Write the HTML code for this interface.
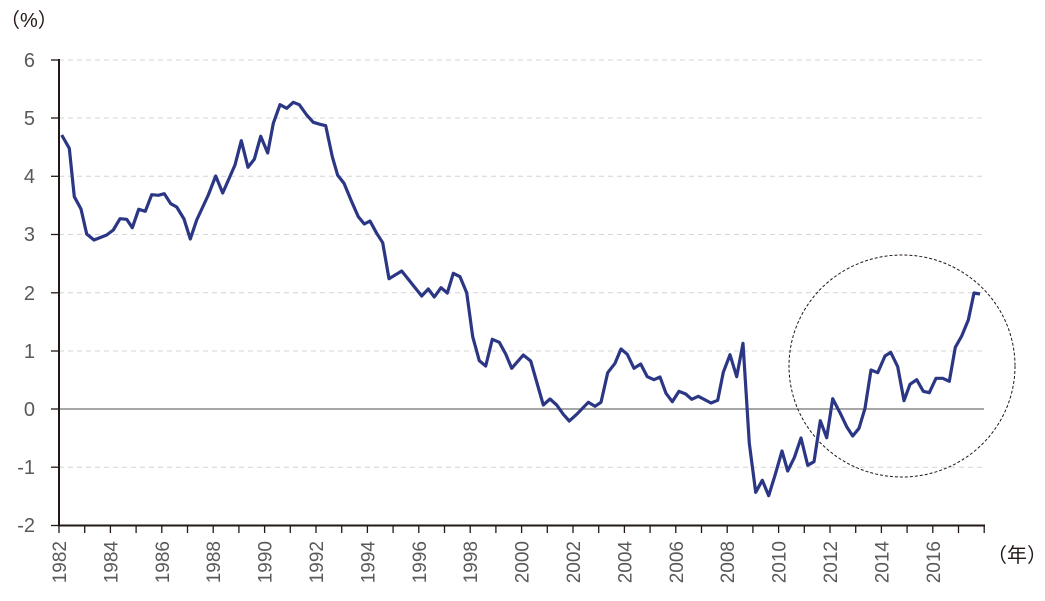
<!DOCTYPE html>
<html><head><meta charset="utf-8"><style>
html,body{margin:0;padding:0;background:#fff;}
svg{display:block;font-family:"Liberation Sans","Noto Sans CJK JP",sans-serif;}
</style></head><body>
<svg width="1045" height="601" viewBox="0 0 1045 601">
<g stroke="#d4d4d4" stroke-width="1" stroke-dasharray="5,4">
<line x1="59" y1="60" x2="984" y2="60"/>
<line x1="59" y1="118" x2="984" y2="118"/>
<line x1="59" y1="176.3" x2="984" y2="176.3"/>
<line x1="59" y1="234.5" x2="984" y2="234.5"/>
<line x1="59" y1="292.8" x2="984" y2="292.8"/>
<line x1="59" y1="351" x2="984" y2="351"/>
<line x1="59" y1="467.2" x2="984" y2="467.2"/>
</g>
<line x1="59" y1="409" x2="984" y2="409" stroke="#8a8a8a" stroke-width="1.5"/>
<g stroke="#231815" stroke-width="1.3">
<line x1="51" y1="60" x2="59" y2="60"/><line x1="51" y1="118" x2="59" y2="118"/><line x1="51" y1="176.3" x2="59" y2="176.3"/><line x1="51" y1="234.5" x2="59" y2="234.5"/><line x1="51" y1="292.8" x2="59" y2="292.8"/><line x1="51" y1="351" x2="59" y2="351"/><line x1="51" y1="409" x2="59" y2="409"/><line x1="51" y1="467.2" x2="59" y2="467.2"/><line x1="51" y1="525.5" x2="59" y2="525.5"/>
</g>
<line x1="59" y1="59" x2="59" y2="526" stroke="#231815" stroke-width="2"/>
<line x1="58" y1="525.5" x2="985" y2="525.5" stroke="#231815" stroke-width="2"/>
<g id="ticks" stroke="#231815" stroke-width="1.3"></g>
<g fill="#595959" font-size="20" text-anchor="end">
<text x="35" y="67">6</text><text x="35" y="125">5</text><text x="35" y="183">4</text><text x="35" y="241">3</text><text x="35" y="300">2</text><text x="35" y="358">1</text><text x="35" y="416">0</text><text x="35" y="474">-1</text><text x="35" y="532">-2</text>
</g>
<g id="years" fill="#595959" font-size="19"></g>
<text x="0" y="27" font-size="20" fill="#231815">（%）</text>
<text x="987" y="562" font-size="20" fill="#231815">（年）</text>
<ellipse cx="902" cy="366" rx="113" ry="111" fill="none" stroke="#231815" stroke-width="1" stroke-dasharray="3,2"/>
<polyline fill="none" stroke="#2b3784" stroke-width="3.2" stroke-linejoin="round" points="61.7,135 69.3,148.3 74.3,196.7 81,209 86.7,234 94,240 106.7,235 113.3,230 120,218.7 126.7,219.3 132.3,227.7 138.7,209.3 145.3,211.3 151.7,194.7 158.3,195.3 164.3,193.7 170.7,203.7 176.7,207 184,219 190.3,239 196.7,220 208.3,195 215.7,176 222.7,193 235,165 241.3,140.7 248,167.3 254.3,159.3 260.7,136.3 267.7,153 273.3,123.3 280,104.7 286.7,108.3 293.3,102.3 299.3,104.7 306.7,115 313.3,122.3 320,124.3 325.7,125.7 332.3,156.7 337.7,175.3 344,183.3 351.7,201.7 358.3,216.7 364.3,224 370,221 376.7,233.3 382.7,242.7 389,278.7 401.7,271 421.7,296 428.3,289 434.3,297 441,287.7 447.3,293 453.3,273.3 460,276.7 466.7,292.7 472.7,336.7 479.3,360.7 485.7,366 492.3,339.3 499.3,342.3 505.7,354 511.7,368.3 523.3,355 530.7,361 543.3,405 550,399 556.7,405 563.3,414.3 569.3,421 576.7,414.3 588.3,402.3 595,406.3 601,402.3 607.7,372.7 615,363.3 621,349 627.3,354.3 634,368.3 640.7,364 647.3,376.7 654,379.7 660,377 666,393.3 672.3,401.7 679,391.3 685.7,394 691.7,399.3 698.3,396.3 711,403 717.7,400.3 723.3,372.3 730,354.7 736.7,376.7 743,343.3 749.3,443.3 755.7,492.3 762.3,480.3 768.7,495.7 775.3,474.3 782,451 787.7,471 794.3,457.7 801,438 807.7,465.3 814,461.7 820.3,420.7 826.7,437.7 832.7,398.7 840,412.7 846.7,426.7 852.7,436 859,428.3 865,408.3 871,370 877.7,372.7 885,356 890.7,352.3 897.7,366.7 904,400.7 910,384.3 916.7,379.7 923.3,391.3 929.3,392.7 936,378.3 942.7,378.3 949.3,381.3 955.3,347.3 961.7,336 968.3,320 974,293 980,294"/>
<script>
var t=document.getElementById('ticks'),y=document.getElementById('years'),ns='http://www.w3.org/2000/svg';
for(var i=0;i<=36;i++){var x=59+i*25.7;var l=document.createElementNS(ns,'line');l.setAttribute('x1',x);l.setAttribute('x2',x);l.setAttribute('y1',525);l.setAttribute('y2',533);t.appendChild(l);
if(i%2==0&&i<36){var tx=document.createElementNS(ns,'text');tx.setAttribute('transform','translate('+(x+7)+',541) rotate(-90)');tx.setAttribute('text-anchor','end');tx.textContent=1982+i;y.appendChild(tx);}}
</script>
</svg>
</body></html>
